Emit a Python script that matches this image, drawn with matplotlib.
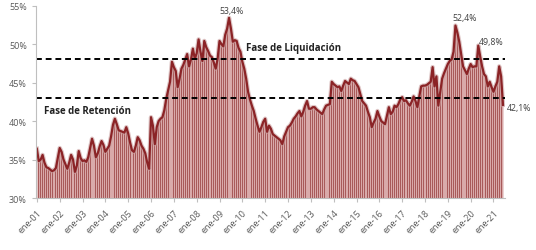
import numpy as np
import matplotlib.pyplot as plt

plt.rcParams['font.family'] = ['Open Sans', 'DejaVu Sans']

# monthly share (%), ene-2001 .. jun-2021
y2001 = [36.4, 34.8, 35.0, 35.6, 34.6, 34.0, 33.9, 33.7, 33.5, 33.6, 33.9, 35.2]
y2002 = [36.5, 36.0, 35.0, 34.4, 33.8, 34.6, 35.6, 35.0, 33.4, 34.2, 36.1, 35.2]
y2003 = [34.8, 34.9, 34.7, 35.3, 36.5, 37.7, 36.8, 35.3, 35.8, 36.7, 37.4, 36.9]
y2004 = [36.0, 36.4, 36.8, 38.0, 39.5, 40.3, 39.6, 38.8, 38.7, 38.6, 38.5, 39.2]
y2005 = [38.4, 37.2, 36.2, 36.0, 36.8, 37.9, 37.5, 36.8, 36.4, 35.8, 34.6, 33.8]
y2006 = [40.5, 39.4, 37.0, 39.2, 40.0, 40.3, 40.5, 41.4, 42.9, 44.0, 45.1, 47.7]
y2007 = [47.0, 46.5, 44.4, 45.5, 46.8, 47.3, 48.0, 48.7, 47.1, 48.0, 49.4, 48.1]
y2008 = [48.8, 50.6, 49.0, 47.8, 50.4, 49.6, 49.1, 48.5, 48.3, 47.6, 46.8, 48.1]
y2009 = [50.4, 50.0, 49.7, 51.2, 52.0, 53.4, 52.0, 50.3, 50.5, 50.4, 49.5, 49.0]
y2010 = [47.7, 46.8, 45.5, 43.8, 42.8, 42.0, 41.3, 40.3, 39.4, 38.6, 39.2, 39.9]
y2011 = [40.3, 38.6, 39.4, 39.0, 38.3, 38.1, 37.9, 37.7, 37.5, 37.0, 38.0, 38.6]
y2012 = [39.2, 39.4, 39.8, 40.3, 40.6, 41.0, 41.3, 40.6, 41.2, 42.0, 42.6, 41.6]
y2013 = [41.6, 41.8, 41.8, 41.5, 41.3, 41.1, 40.9, 41.5, 42.0, 42.1, 42.2, 45.1]
y2014 = [44.8, 44.6, 44.4, 44.5, 43.9, 44.6, 45.2, 45.0, 44.8, 45.5, 45.3, 45.2]
y2015 = [44.8, 44.4, 43.5, 42.6, 42.3, 42.0, 41.2, 40.5, 39.2, 39.8, 40.3, 41.3]
y2016 = [40.6, 40.0, 39.8, 39.6, 40.7, 41.8, 40.9, 41.2, 42.0, 41.8, 42.2, 42.8]
y2017 = [43.1, 42.6, 42.7, 42.3, 42.0, 42.5, 43.2, 42.6, 41.8, 43.2, 44.5, 44.6]
y2018 = [44.6, 44.7, 44.9, 45.1, 47.0, 44.5, 45.8, 42.0, 43.8, 45.5, 46.2, 46.8]
y2019 = [47.4, 47.8, 48.0, 49.0, 52.4, 51.5, 50.3, 48.7, 47.1, 46.6, 46.1, 46.8]
y2020 = [47.4, 47.0, 47.1, 47.1, 49.8, 48.4, 47.1, 46.1, 45.8, 44.5, 45.1, 44.4]
y2021 = [43.8, 44.5, 45.1, 47.1, 45.8, 42.1]

values = np.array(y2001 + y2002 + y2003 + y2004 + y2005 + y2006 + y2007 + y2008
                  + y2009 + y2010 + y2011 + y2012 + y2013 + y2014 + y2015 + y2016
                  + y2017 + y2018 + y2019 + y2020 + y2021)
year_labels = ["ene-%02d" % y for y in range(1, 22)]

liquidacion = 48.0
retencion = 43.0

fig = plt.figure(figsize=(5.36, 2.51), dpi=100)
ax = fig.add_axes([0.067, 0.207, 0.875, 0.767])

x = np.arange(len(values))
# striped area: light fill with thin darker bars
ax.fill_between(x, 30, values, color="#d9aaaa", lw=0)
ax.bar(x, values - 30, bottom=30, width=0.45, color="#a85a5a", lw=0)
ax.plot(x, values, color="#c9a0a0", lw=3.2, alpha=0.6)
ax.plot(x, values, color="#8b2326", lw=1.6)

ax.axhline(liquidacion, color="black", lw=1.4, ls=(0, (3, 2)))
ax.axhline(retencion, color="black", lw=1.4, ls=(0, (3, 2)))

ax.text(110, 49.5, "Fase de Liquidación", fontsize=7, fontweight="bold",
        color="#222222", va="center")
ax.text(4, 41.4, "Fase de Retención", fontsize=7, fontweight="bold",
        color="#222222", va="center")

lab = dict(fontsize=6.3, color="#404040", va="center")
ax.text(102.5, 54.4, "53,4%", ha="center", **lab)
ax.text(224.7, 53.4, "52,4%", ha="center", **lab)
ax.text(239, 50.3, "49,8%", ha="center", **lab)
ax.text(247, 41.8, "42,1%", ha="left", clip_on=False, **lab)

ax.set_xlim(-0.5, 246)
ax.set_ylim(30, 55)
ax.set_yticks(np.arange(30, 56, 5))
ax.set_yticklabels(["%d%%" % v for v in range(30, 56, 5)])
ax.set_xticks(np.arange(0, 246, 12))
ax.set_xticklabels(year_labels, rotation=45, ha="right", rotation_mode="anchor")

for s in ["top", "right"]:
    ax.spines[s].set_visible(False)
for s in ["left", "bottom"]:
    ax.spines[s].set_color("#bfbfbf")
ax.tick_params(axis="both", colors="#bfbfbf", labelcolor="#595959",
               labelsize=6.5, length=3)
ax.tick_params(axis="x", pad=4)

fig.savefig("out.png", dpi=100)
